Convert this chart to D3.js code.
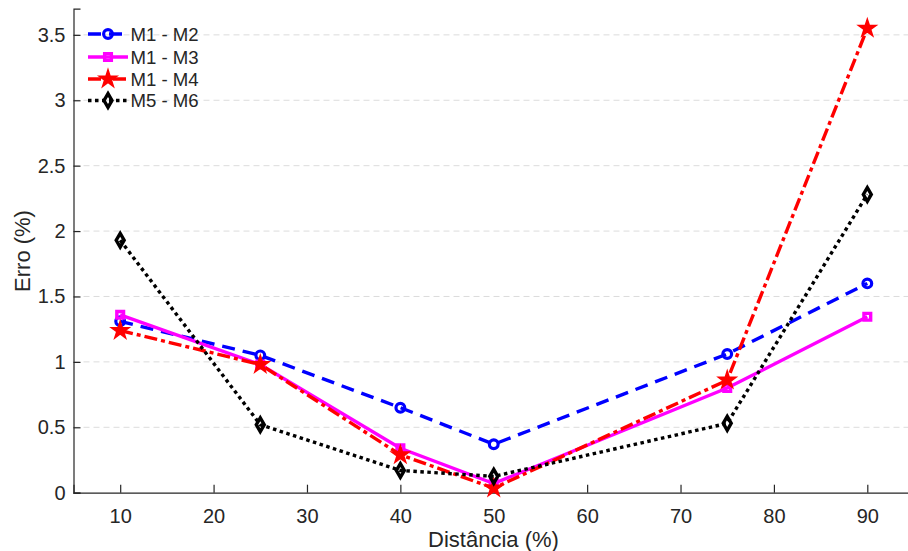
<!DOCTYPE html>
<html><head><meta charset="utf-8">
<script src="https://cdn.jsdelivr.net/npm/d3@7"></script>
<style>body{margin:0;background:#fff}svg{display:block;font-family:"Liberation Sans",Arial,sans-serif}</style>
</head><body><svg id="c" width="908" height="551"></svg>
<script>
const distances = [10, 25, 40, 50, 75, 90];
const seriesNames = ["M1 - M2", "M1 - M3", "M1 - M4", "M5 - M6"];
const m1m2 = [1.31, 1.05, 0.65, 0.37, 1.06, 1.60];
const m1m3 = [1.36, 0.98, 0.34, 0.07, 0.80, 1.345];
const m1m4 = [1.24, 0.98, 0.29, 0.035, 0.86, 3.55];
const m5m6 = [1.93, 0.52, 0.17, 0.125, 0.53, 2.28];
const xTicks = [10, 20, 30, 40, 50, 60, 70, 80, 90];
const yTicks = [0, 0.5, 1, 1.5, 2, 2.5, 3, 3.5];

const svg = d3.select("#c");
const x = d3.scaleLinear().domain([5, 95]).range([73.5, 914]);
const y = d3.scaleLinear().domain([0, 3.7]).range([492.7, 8.7]);
const txt = "#262626";

// grid
svg.append("g").selectAll("line").data(yTicks.filter(d => d > 0)).join("line")
  .attr("x1", x(5)).attr("x2", 908).attr("y1", d => y(d)).attr("y2", d => y(d))
  .attr("stroke", "#dcdcdc").attr("stroke-width", 1).attr("stroke-dasharray", "6,4");

// axes
const xa = svg.append("g").attr("transform", `translate(0,${y(0)})`)
  .call(d3.axisBottom(x).tickValues(xTicks).tickSize(-8).tickPadding(16).tickFormat(d3.format("d")));
const ya = svg.append("g").attr("transform", `translate(${x(5)},0)`)
  .call(d3.axisLeft(y).tickValues(yTicks).tickSize(-7).tickPadding(8).tickFormat(d => d3.format("")(d)));
[xa, ya].forEach(a => {
  a.select(".domain").attr("stroke", txt).attr("stroke-width", 1.2);
  a.selectAll(".tick line").attr("stroke", txt).attr("stroke-width", 1.2);
  a.selectAll("text").attr("fill", txt).attr("font-size", 20).attr("font-family", "Liberation Sans, Arial, sans-serif");
});

svg.append("text").attr("x", 493.5).attr("y", 547).attr("text-anchor", "middle")
  .attr("fill", txt).attr("font-size", 22).text("Distância (%)");
svg.append("text").attr("transform", `translate(30,251) rotate(-90)`).attr("text-anchor", "middle")
  .attr("fill", txt).attr("font-size", 22).text("Erro (%)");

const star = d3.symbol().type(d3.symbolStar).size(95);
const diamond = d3.symbol().type(d3.symbolDiamond).size(55);
const square = d3.symbol().type(d3.symbolSquare).size(45);
const circ = d3.symbol().type(d3.symbolCircle).size(60);

const series = [
  {name: seriesNames[0], vals: m1m2, color: "#0000ff", dash: "13,8", sym: circ, fill: "none", sw: 3.2},
  {name: seriesNames[1], vals: m1m3, color: "#ff00ff", dash: null, sym: square, fill: "none", sw: 3.4},
  {name: seriesNames[2], vals: m1m4, color: "#ff0000", dash: "13,4,4,4", sym: star, fill: "#ff0000", sw: 1.5},
  {name: seriesNames[3], vals: m5m6, color: "#000000", dash: "3.5,3.5", sym: diamond, fill: "none", sw: 3.4}
];
const line = d3.line().x(d => x(d[0])).y(d => y(d[1]));

series.forEach(s => {
  const pts = distances.map((d, i) => [d, s.vals[i]]);
  svg.append("path").attr("d", line(pts)).attr("fill", "none").attr("stroke", s.color)
    .attr("stroke-width", 3.4).attr("stroke-dasharray", s.dash);
  svg.append("g").selectAll("path").data(pts).join("path")
    .attr("d", s.sym).attr("transform", d => `translate(${x(d[0])},${y(d[1])})`)
    .attr("fill", s.fill).attr("stroke", s.color).attr("stroke-width", s.sw);
});

// legend
const lg = svg.append("g");
series.forEach((s, i) => {
  const yy = [34, 57, 79, 100.5][i];
  lg.append("line").attr("x1", 88).attr("x2", 128).attr("y1", yy).attr("y2", yy)
    .attr("stroke", s.color).attr("stroke-width", 3.4).attr("stroke-dasharray", s.dash);
  lg.append("path").attr("d", s.sym).attr("transform", `translate(108,${yy})`)
    .attr("fill", s.fill).attr("stroke", s.color).attr("stroke-width", s.sw);
  lg.append("text").attr("x", 130.5).attr("y", yy + 6.5).attr("fill", txt).attr("font-size", 18.6).text(s.name);
});
</script></body></html>
